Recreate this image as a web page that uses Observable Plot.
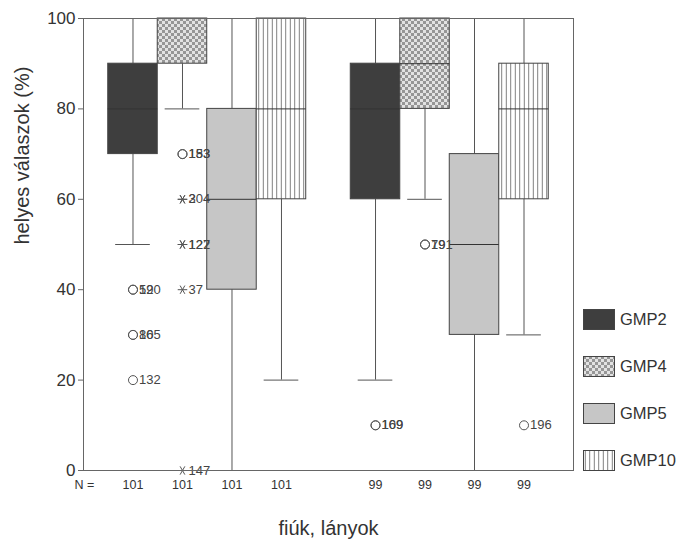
<!DOCTYPE html>
<html>
<head>
<meta charset="utf-8">
<script src="https://cdn.jsdelivr.net/npm/d3@7"></script>
<script src="https://cdn.jsdelivr.net/npm/@observablehq/plot@0.6"></script>
<style>
  body { margin: 0; background: #fff; font-family: "Liberation Sans", Arial, sans-serif; }
  #wrap { position: relative; width: 677px; height: 547px; overflow: hidden; }
  #legend { position: absolute; left: 583px; top: 309px; display: flex; flex-direction: column; gap: 26px; }
  .item { display: flex; align-items: center; height: 21px; font-size: 16.5px; color: #333; }
  .item svg { margin-right: 5px; }
</style>
</head>
<body>
<!-- shared fill patterns -->
<svg width="0" height="0" style="position:absolute">
  <defs>
    <pattern id="checker" width="6" height="6" patternUnits="userSpaceOnUse">
      <rect width="6" height="6" fill="#e2e2e2"></rect>
      <rect width="3" height="3" fill="#969696"></rect>
      <rect x="3" y="3" width="3" height="3" fill="#969696"></rect>
    </pattern>
    <pattern id="vlines" width="4.5" height="10" patternUnits="userSpaceOnUse">
      <rect width="4.5" height="10" fill="#ffffff"></rect>
      <line x1="2.25" y1="0" x2="2.25" y2="10" stroke="#6a6a6a" stroke-width="0.9"></line>
    </pattern>
  </defs>
</svg>
<div id="wrap">
  <div id="chart"></div>
  <div id="legend"></div>
</div>
<script>
// Groups and variables
const groups = ["fiúk", "lányok"];
const variables = ["GMP2", "GMP4", "GMP5", "GMP10"];

// Box statistics, in order fiúk GMP2..GMP10, lányok GMP2..GMP10
const counts = [101, 101, 101, 101, 99, 99, 99, 99];
const lowerWhisker = [50, 80, 0, 20, 20, 60, 0, 30];
const lowerQuartile = [70, 90, 40, 60, 60, 80, 30, 60];
const medians = [80, 100, 60, 80, 80, 90, 50, 80];
const upperQuartile = [90, 100, 80, 100, 90, 100, 70, 90];
const upperWhisker = [100, 100, 100, 100, 100, 100, 100, 100];

// Outliers (circle) and extremes (asterisk) with case numbers
const outlierGroup = ["fiúk", "fiúk", "fiúk", "fiúk", "fiúk", "fiúk", "fiúk", "fiúk", "fiúk", "fiúk", "fiúk", "fiúk", "fiúk", "lányok", "lányok", "lányok", "lányok", "lányok"];
const outlierVariable = ["GMP2", "GMP2", "GMP2", "GMP2", "GMP2", "GMP4", "GMP4", "GMP4", "GMP4", "GMP4", "GMP4", "GMP4", "GMP4", "GMP2", "GMP2", "GMP4", "GMP4", "GMP10"];
const outlierValue = [40, 40, 30, 30, 20, 70, 70, 60, 60, 50, 50, 40, 0, 10, 10, 50, 50, 10];
const outlierCase = ["59", "120", "86", "105", "132", "183", "153", "204", "3", "122", "127", "37", "147", "169", "109", "79", "191", "196"];
const outlierKind = ["o", "o", "o", "o", "o", "o", "o", "*", "*", "*", "*", "*", "*", "o", "o", "o", "o", "o"];

const fills = {GMP2: "#3e3e3e", GMP4: "url(#checker)", GMP5: "#c6c6c6", GMP10: "url(#vlines)"};

// horizontal slot of each box: four boxes per group with a gap between groups
const slot = (g, v) => groups.indexOf(g) * 4.9 + variables.indexOf(v);

const boxes = counts.map((n, i) => {
  const group = groups[Math.floor(i / 4)];
  const variable = variables[i % 4];
  return {group, variable, x: slot(group, variable), n: String(n),
    lo: lowerWhisker[i], q1: lowerQuartile[i], median: medians[i], q3: upperQuartile[i], hi: upperWhisker[i]};
});

const outliers = outlierValue.map((value, i) => ({
  x: slot(outlierGroup[i], outlierVariable[i]), value, label: outlierCase[i], kind: outlierKind[i]
}));

const ink = "#555";
const font = "Liberation Sans, Arial, sans-serif";

const chart = Plot.plot({
  width: 677,
  height: 547,
  marginTop: 18,
  marginBottom: 77,
  marginLeft: 83,
  marginRight: 104,
  style: {fontFamily: font, color: "#333", background: "#fff"},
  x: {type: "linear", domain: [-1, 8.9], axis: null},
  y: {domain: [0, 100]},
  color: {type: "identity"},
  marks: [
    Plot.axisY({ticks: [0, 20, 40, 60, 80, 100], tickSize: 5, tickPadding: 3, fontSize: 17,
      stroke: "#666", label: null}),
    Plot.text(["helyes válaszok (%)"], {frameAnchor: "left", rotate: -90, dx: -61, fontSize: 20, fill: "#333"}),
    // whiskers and caps
    Plot.ruleX(boxes, {x: "x", y1: "lo", y2: "q1", stroke: ink}),
    Plot.ruleX(boxes, {x: "x", y1: "q3", y2: "hi", stroke: ink}),
    Plot.ruleY(boxes, {y: "lo", x1: d => d.x - 0.35, x2: d => d.x + 0.35, stroke: ink}),
    Plot.ruleY(boxes, {y: "hi", x1: d => d.x - 0.35, x2: d => d.x + 0.35, stroke: ink}),
    // boxes and medians
    Plot.rect(boxes, {x1: d => d.x - 0.5, x2: d => d.x + 0.5, y1: "q1", y2: "q3",
      fill: d => fills[d.variable], stroke: "#444", strokeWidth: 1}),
    Plot.ruleY(boxes, {y: "median", x1: d => d.x - 0.5, x2: d => d.x + 0.5, stroke: "#333"}),
    // outliers and extremes
    Plot.dot(outliers.filter(d => d.kind === "o"), {x: "x", y: "value", r: 4.5, stroke: ink, fill: "none", strokeWidth: 1}),
    Plot.dot(outliers.filter(d => d.kind === "*"), {x: "x", y: "value", r: 4.5, symbol: "asterisk", rotate: 90, stroke: ink, strokeWidth: 1}),
    Plot.text(outliers, {x: "x", y: "value", text: "label", dx: 6, textAnchor: "start", fontSize: 13, fill: "#444"}),
    // case counts under each box
    Plot.text(boxes, {x: "x", text: "n", frameAnchor: "bottom", dy: 18, fontSize: 12.5, fill: "#333"}),
    Plot.text(["N ="], {frameAnchor: "bottom-left", dx: -9, dy: 18, textAnchor: "start", fontSize: 12.5, fill: "#333"}),
    Plot.text(["fiúk, lányok"], {frameAnchor: "bottom", dy: 64, fontSize: 20, fill: "#333"}),
    Plot.frame({stroke: "#666"})
  ]
});
document.getElementById("chart").appendChild(chart);

// legend
const legend = d3.select("#legend");
for (const v of variables) {
  const item = legend.append("div").attr("class", "item");
  const sw = item.append("svg").attr("width", 32).attr("height", 21);
  sw.append("rect").attr("x", 0.5).attr("y", 0.5).attr("width", 31).attr("height", 20)
    .attr("fill", fills[v]).attr("stroke", "#444");
  item.append("span").text(v);
}
</script>
</body>
</html>
